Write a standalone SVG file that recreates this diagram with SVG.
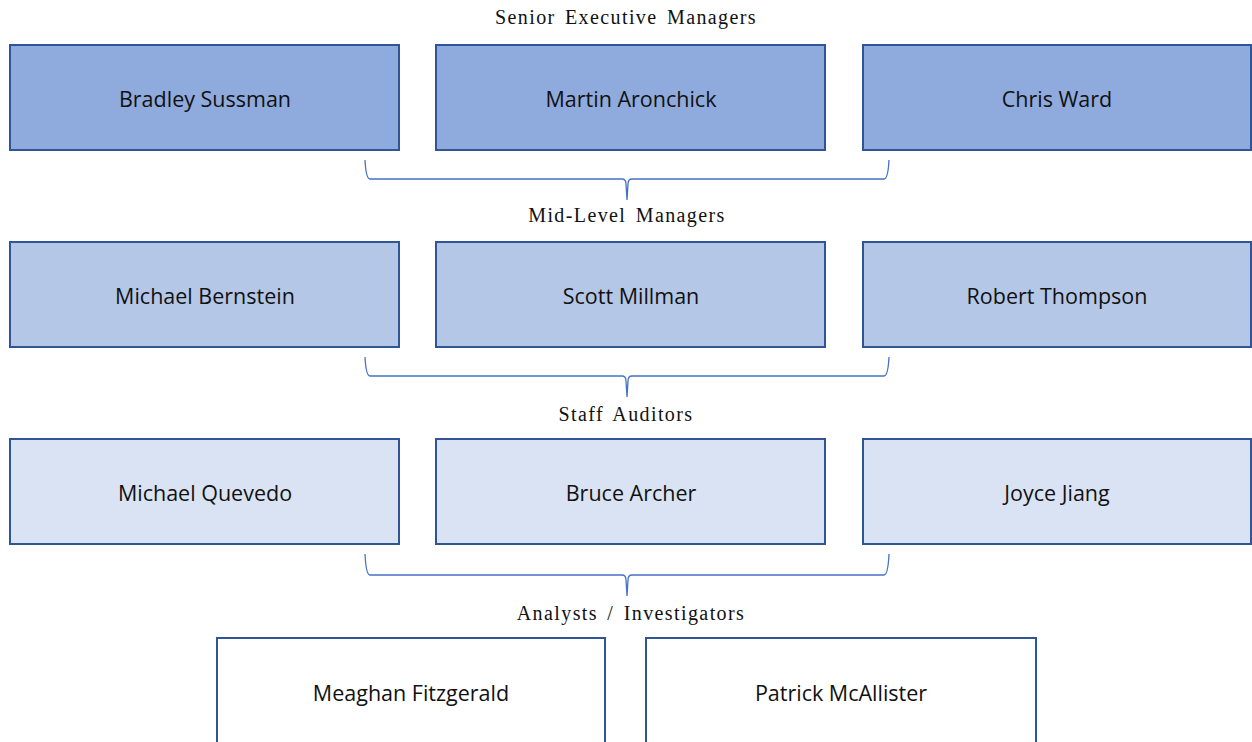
<svg xmlns="http://www.w3.org/2000/svg" width="1252" height="742" viewBox="0 0 1252 742">
<style>
.box{stroke:#2f5597;stroke-width:2}
.l1{fill:#8faadc}.l2{fill:#b4c7e7}.l3{fill:#dae3f3}.l4{fill:#ffffff}
.name{font-family:"Open Sans","Liberation Sans",sans-serif;font-size:21.5px;fill:#111;text-anchor:middle;dominant-baseline:central}
.lvl{font-family:"Liberation Serif",serif;font-size:20px;fill:#111;text-anchor:middle;letter-spacing:1.4px;word-spacing:3px}
.brace{fill:none;stroke:#4472c4;stroke-width:1.3}
</style>
<rect width="1252" height="742" fill="#fff"/>
<g id="labels">
<text class="lvl" x="626" y="24">Senior Executive Managers</text>
<text class="lvl" x="627" y="222">Mid-Level Managers</text>
<text class="lvl" x="626" y="421">Staff Auditors</text>
<text class="lvl" x="631" y="620">Analysts / Investigators</text>
</g>
<g id="n-bradley"><rect class="box l1" x="10" y="45" width="389" height="105"/><text class="name" x="205" y="98">Bradley Sussman</text></g>
<g id="n-martin"><rect class="box l1" x="436" y="45" width="389" height="105"/><text class="name" x="631" y="98">Martin Aronchick</text></g>
<g id="n-chris"><rect class="box l1" x="863" y="45" width="388" height="105"/><text class="name" x="1057" y="98">Chris Ward</text></g>
<g id="n-michaelb"><rect class="box l2" x="10" y="242" width="389" height="105"/><text class="name" x="205" y="295">Michael Bernstein</text></g>
<g id="n-scott"><rect class="box l2" x="436" y="242" width="389" height="105"/><text class="name" x="631" y="295">Scott Millman</text></g>
<g id="n-robert"><rect class="box l2" x="863" y="242" width="388" height="105"/><text class="name" x="1057" y="295">Robert Thompson</text></g>
<g id="n-michaelq"><rect class="box l3" x="10" y="439" width="389" height="105"/><text class="name" x="205" y="492">Michael Quevedo</text></g>
<g id="n-bruce"><rect class="box l3" x="436" y="439" width="389" height="105"/><text class="name" x="631" y="492">Bruce Archer</text></g>
<g id="n-joyce"><rect class="box l3" x="863" y="439" width="388" height="105"/><text class="name" x="1057" y="492">Joyce Jiang</text></g>
<g id="n-meaghan"><rect class="box l4" x="217" y="638" width="388" height="110"/><text class="name" x="411" y="692">Meaghan Fitzgerald</text></g>
<g id="n-patrick"><rect class="box l4" x="646" y="638" width="390" height="110"/><text class="name" x="841" y="692">Patrick McAllister</text></g>
<g id="connectors">
<path class="brace" d="M365,160 Q366,179 370,179 L622,179 Q626,179 626,184 L627,200 M627,200 L628,184 Q628,179 632,179 L884,179 Q888,179 889,160"/>
<path class="brace" d="M365,357 Q366,376 370,376 L622,376 Q626,376 626,381 L627,397 M627,397 L628,381 Q628,376 632,376 L884,376 Q888,376 889,357"/>
<path class="brace" d="M365,554 Q366,575 370,575 L622,575 Q626,575 626,580 L627,596 M627,596 L628,580 Q628,575 632,575 L884,575 Q888,575 889,554"/>
</g>
</svg>
